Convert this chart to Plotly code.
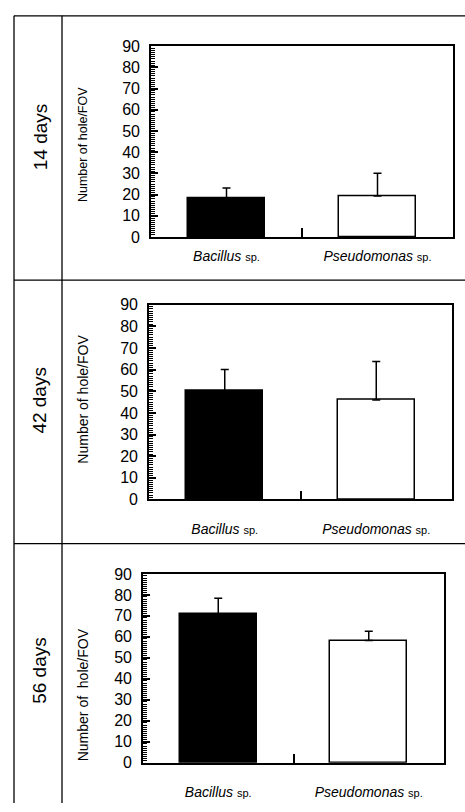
import plotly.graph_objects as go

W, H = 465, 812

# ---- data ----
categories = ["Bacillus sp.", "Pseudomonas sp."]
category_labels = ["<i>Bacillus</i> <span style='font-size:11px'>sp.</span>",
                   "<i>Pseudomonas</i> <span style='font-size:11px'>sp.</span>"]
panel_titles = ["14 days", "42 days", "56 days"]
values_14 = [18.3, 19.4]
errors_14 = [4.9, 10.7]
values_42 = [50.2, 46.0]
errors_42 = [9.9, 17.7]
values_56 = [70.8, 58.3]
errors_56 = [7.6, 4.4]
y_max = 90
y_major_step = 10
y_minor_step = 1
ytitles = ["Number of hole/FOV", "Number of hole/FOV", "Number of&nbsp; hole/FOV"]

values = [values_14, values_42, values_56]
errors = [errors_14, errors_42, errors_56]
cat_pos = [1, 3]
bar_colors = ["black", "white"]

FONT = "Liberation Sans, Arial, Helvetica, sans-serif"

# panel geometry in pixels: (left, right, top, bottom)
panels = [(151, 453, 39, 234), (149, 452, 303, 502), (143, 444, 578, 771)]
title_y = [132, 401, 677]
ytitle_y = [140, 400, 702]
ytitle_size = [12.5, 14, 14]
xlabel_standoff = [5, 16, 16]

fig = go.Figure()

def px_x(v):
    return v / W

def px_y(v):
    return 1 - v / H

for i, (l, r, t, b) in enumerate(panels):
    n = "" if i == 0 else str(i + 1)
    for j in range(2):
        fig.add_trace(go.Bar(
            x=[cat_pos[j]], y=[values[i][j]],
            width=1.02,
            marker=dict(color=bar_colors[j], line=dict(color="black", width=1.5)),
            error_y=dict(type="data", symmetric=False, array=[errors[i][j]],
                         arrayminus=[0], color="black", thickness=1.5, width=4),
            xaxis="x" + n, yaxis="y" + n, showlegend=False,
        ))
    fig.layout["xaxis" + n] = dict(
        domain=[px_x(l), px_x(r)], anchor="y" + n, range=[0, 4],
        tickmode="array", tickvals=cat_pos, ticktext=category_labels, ticks="",
        showgrid=False,
        zeroline=False, showline=True, linecolor="black", linewidth=1.5, mirror=True,
        tickfont=dict(family=FONT, size=14, color="black"),
        ticklabelstandoff=xlabel_standoff[i],
        minor=dict(tickmode="array", tickvals=[2], ticks="inside", ticklen=9,
                   tickwidth=1.5, tickcolor="black", showgrid=False),
        fixedrange=True,
    )
    fig.layout["yaxis" + n] = dict(
        domain=[px_y(b), px_y(t)], anchor="x" + n, range=[0, y_max],
        tickmode="linear", tick0=0, dtick=y_major_step,
        ticks="inside", ticklen=7, tickwidth=1.6, tickcolor="black",
        showgrid=False, zeroline=False, showline=True, linecolor="black", linewidth=1.6,
        mirror=True, tickfont=dict(family=FONT, size=16, color="black"),
        ticklabelstandoff=6,
        minor=dict(tickmode="linear", tick0=0, dtick=y_minor_step, ticks="inside",
                   ticklen=4, tickwidth=1, tickcolor="black", showgrid=False),
        fixedrange=True,
    )
    fig.add_annotation(text=panel_titles[i], x=px_x(40), y=px_y(title_y[i]),
                       xref="paper", yref="paper", showarrow=False, textangle=-90,
                       font=dict(family=FONT, size=19, color="black"),
                       xanchor="center", yanchor="middle")
    fig.add_annotation(text=ytitles[i], x=px_x(83), y=px_y(ytitle_y[i]),
                       xref="paper", yref="paper", showarrow=False, textangle=-90,
                       font=dict(family=FONT, size=ytitle_size[i], color="black"),
                       xanchor="center", yanchor="middle")

# outer table frame
frame = dict(type="line", xref="paper", yref="paper", line=dict(color="black", width=1.3))
fig.add_shape(**frame, x0=px_x(14), x1=px_x(14), y0=px_y(8), y1=px_y(812))
fig.add_shape(**frame, x0=px_x(62), x1=px_x(62), y0=px_y(8), y1=px_y(812))
for yy in [8, 278, 547]:
    fig.add_shape(**frame, x0=px_x(14), x1=1, y0=px_y(yy), y1=px_y(yy))

fig.update_layout(
    width=W, height=H, margin=dict(l=0, r=0, t=0, b=0),
    paper_bgcolor="white", plot_bgcolor="white", bargap=0,
    font=dict(family=FONT, color="black"),
)

fig.write_html("out.html", config={"displayModeBar": False},
               post_script="document.body.style.margin='0';document.documentElement.style.margin='0';document.body.style.overflow='hidden';")
